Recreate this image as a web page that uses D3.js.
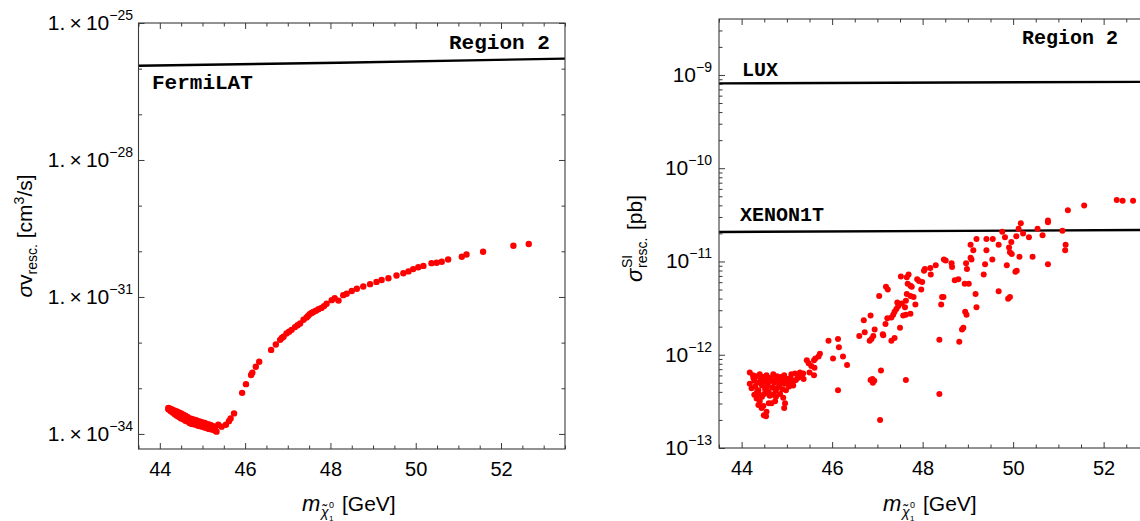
<!DOCTYPE html>
<html><head><meta charset="utf-8">
<script src="https://cdn.jsdelivr.net/npm/d3@7"></script>
<style>body{margin:0;background:#fff}</style>
</head><body>
<svg id="c" width="1140" height="521" xmlns="http://www.w3.org/2000/svg"></svg>
<script>
// ---------------- DATA ----------------
// Left panel: neutralino mass [GeV] and log10 of rescaled sigma v [cm^3/s]
const leftMass = [
 44.20,44.20,44.22,44.25,44.25,44.30,44.30,44.32,44.35,44.35,44.40,44.40,44.42,44.45,44.45,44.50,44.50,44.52,
 44.55,44.55,44.60,44.60,44.62,44.65,44.65,44.70,44.70,44.72,44.75,44.75,44.80,44.80,44.82,44.85,44.85,44.90,
 44.90,44.92,44.95,44.95,45.00,45.00,45.02,45.05,45.05,45.10,45.10,45.12,45.15,45.15,45.20,45.20,45.22,45.25,
 45.25,45.30,45.30,45.33,45.37,
 45.45,45.55,45.62,45.66,45.74,
 45.93,46.02,46.14,46.17,46.25,46.33,46.61,46.72,
 46.82,46.86,46.90,46.97,47.03,47.09,47.17,47.23,47.29,47.37,47.44,47.48,47.52,47.56,47.60,47.66,47.72,47.79,
 47.85,47.91,48.03,48.10,48.19,48.30,48.38,48.50,48.62,48.77,48.93,49.08,49.20,49.36,49.55,49.71,49.83,49.94,
 50.06,50.18,50.37,50.49,50.61,50.76,51.08,51.19,51.58,52.29,52.65
];
const leftLogSigmaV = [
 -33.43,-33.46,-33.46,-33.45,-33.50,-33.47,-33.53,-33.51,-33.49,-33.57,-33.51,-33.60,-33.56,-33.53,-33.63,-33.55,-33.66,-33.61,
 -33.58,-33.68,-33.60,-33.71,-33.66,-33.63,-33.73,-33.66,-33.76,-33.72,-33.67,-33.78,-33.69,-33.79,-33.74,-33.70,-33.80,-33.72,
 -33.82,-33.77,-33.73,-33.83,-33.75,-33.84,-33.80,-33.76,-33.86,-33.78,-33.87,-33.83,-33.79,-33.89,-33.81,-33.90,-33.86,-33.83,
 -33.91,-33.85,-33.93,-33.95,-33.80,
 -33.84,-33.80,-33.72,-33.66,-33.55,
 -33.10,-32.91,-32.71,-32.66,-32.53,-32.42,-32.16,-32.04,
 -31.94,-31.90,-31.87,-31.80,-31.76,-31.72,-31.66,-31.62,-31.58,-31.50,-31.45,-31.41,-31.37,-31.35,-31.33,-31.30,-31.27,-31.24,
 -31.20,-31.15,-31.07,-31.03,-31.08,-30.96,-30.93,-30.87,-30.82,-30.77,-30.72,-30.67,-30.63,-30.59,-30.53,-30.48,-30.44,-30.39,
 -30.35,-30.32,-30.26,-30.25,-30.23,-30.18,-30.12,-30.07,-30.01,-29.88,-29.84
];
// FermiLAT limit
const fermiMass = [43.5, 48.2, 53.5];
const fermiSigmaV = [1.16e-26, 1.35e-26, 1.66e-26];

// Right panel: neutralino mass [GeV] and log10 of rescaled sigma_SI [pb]
const rightMass = [
 52.29,52.42,52.65,51.57,51.21,50.77,50.77,50.17,50.12,50.54,51.09,49.76,49.82,49.55,49.41,49.19,49.06,49.68,50.07,50.22,50.35,50.65,49.96,49.91,51.16,
 45.44,45.48,45.54,45.60,45.63,45.70,45.73,45.61,45.50,45.60,46.02,45.92,46.13,46.15,46.24,46.33,46.13,46.60,46.70,46.72,46.83,46.87,46.91,46.94,
 47.04,46.85,46.85,46.90,46.89,46.93,47.08,47.06,47.12,47.13,47.18,47.19,47.23,47.22,47.31,47.35,47.38,47.42,47.46,47.44,47.31,47.38,47.50,47.54,
 47.52,47.61,47.63,47.63,47.57,47.63,47.65,47.69,47.65,47.67,47.73,47.76,47.73,47.80,47.73,47.84,47.88,47.92,47.99,47.97,48.03,48.05,48.17,48.18,
 48.29,48.37,48.37,48.41,48.43,48.46,48.47,48.51,48.64,48.65,48.71,48.79,48.81,48.87,48.90,48.93,48.96,48.98,48.94,48.97,49.02,49.06,49.08,49.17,
 49.19,49.12,49.35,49.38,49.41,49.54,49.68,49.86,49.89,49.93,49.97,49.93,50.05,50.08,50.14,50.43,50.77,51.15,
 44.18,44.25,44.32,44.40,44.48,44.55,44.62,44.70,44.78,44.86,44.94,45.02,45.10,45.18,45.26,45.32,45.36,45.29,45.37,45.06,45.14,
 44.18,44.22,44.28,44.30,44.35,44.37,44.42,44.45,44.50,44.52,44.58,44.60,44.65,44.68,44.72,44.75,44.80,44.83,44.88,44.90,44.95,45.00,45.05,45.12,45.20,
 44.26,44.44,44.58,44.74,44.90,45.08,45.24,44.34,44.56,44.78,44.98,45.16,
 44.28,44.33,44.38,44.40,44.45,44.48,44.50,44.37,44.44,44.49,44.54,44.55,44.60,44.62,44.66,44.70,44.74,44.76,44.85,44.94,44.96,44.92
];
const rightLogSigmaSI = [
 -10.34,-10.35,-10.35,-10.40,-10.45,-10.56,-10.58,-10.59,-10.65,-10.65,-10.67,-10.68,-10.74,-10.76,-10.76,-10.76,-10.82,-10.82,-10.73,-10.70,-10.74,-10.72,-10.79,-10.85,-10.82,
 -12.06,-12.09,-12.12,-12.06,-12.04,-12.02,-11.99,-12.14,-12.19,-12.22,-12.04,-11.85,-11.83,-11.92,-12.02,-12.11,-12.38,-11.80,-11.63,-11.76,-11.85,-11.83,-11.80,-11.73,
 -11.37,-11.58,-12.27,-12.30,-12.26,-12.28,-12.17,-12.70,-11.78,-11.79,-11.67,-11.27,-11.30,-11.61,-11.60,-11.57,-11.54,-11.51,-11.48,-11.44,-11.85,-11.82,-11.71,-11.45,
 -11.16,-11.49,-11.42,-12.27,-11.58,-11.57,-11.35,-11.14,-11.17,-11.24,-11.26,-11.27,-11.37,-11.38,-11.56,-11.46,-11.19,-11.21,-11.22,-11.30,-11.10,-11.08,-11.07,-11.14,
 -11.04,-11.84,-12.42,-11.46,-11.38,-11.38,-10.98,-10.99,-11.02,-11.06,-11.20,-11.19,-11.86,-11.73,-11.71,-11.24,-11.02,-11.08,-11.54,-11.57,-11.24,-10.96,-10.98,-11.35,
 -11.49,-10.88,-11.14,-11.03,-10.88,-10.98,-11.32,-11.04,-11.40,-11.38,-10.92,-10.90,-11.11,-11.10,-10.95,-10.95,-11.03,-10.88,
 -12.19,-12.22,-12.23,-12.21,-12.24,-12.22,-12.25,-12.21,-12.23,-12.24,-12.22,-12.26,-12.21,-12.20,-12.22,-12.24,-12.20,-12.19,-12.26,-12.29,-12.33,
 -12.31,-12.36,-12.28,-12.34,-12.30,-12.38,-12.27,-12.33,-12.29,-12.37,-12.31,-12.40,-12.28,-12.35,-12.30,-12.39,-12.27,-12.33,-12.29,-12.37,-12.31,-12.28,-12.34,-12.30,-12.27,
 -12.25,-12.24,-12.26,-12.25,-12.26,-12.25,-12.25,-12.40,-12.35,-12.36,-12.38,-12.28,
 -12.43,-12.47,-12.42,-12.50,-12.45,-12.55,-12.42,-12.54,-12.57,-12.65,-12.66,-12.61,-12.52,-12.44,-12.52,-12.43,-12.50,-12.45,-12.42,-12.57,-12.52,-12.46
];
// LUX and XENON1T limits
const luxMass = [43.5, 53.5];
const luxSigma = [8.13e-10, 8.45e-10];
const xenonMass = [43.5, 53.5];
const xenonSigma = [2.07e-11, 2.18e-11];

// Tick values / labels
const xTicks = [44, 46, 48, 50, 52];
const xTickLabels = ["44", "46", "48", "50", "52"];
const xMinorTicks = [43.5,44.5,45,45.5,46.5,47,47.5,48.5,49,49.5,50.5,51,51.5,52.5,53,53.5];
const leftYExp = [-25, -28, -31, -34];
const leftYMinorExp = [-26, -27, -29, -30, -32, -33];
const rightYExp = [-9, -10, -11, -12, -13];

// ---------------- DRAWING ----------------
const svg = d3.select("#c");
const SANS = "'Liberation Sans', Arimo, Helvetica, Arial, sans-serif";
const MONO = "'Courier New', 'Nimbus Mono PS', FreeMono, 'Liberation Mono', monospace";
const FRAME = "#3a3a3a";

function panel(cfg) {
  const x = d3.scaleLinear().domain([43.5, 53.5]).range([cfg.x0, cfg.x1]);
  const y = d3.scaleLog().domain(cfg.yDomain).range([cfg.y1, cfg.y0]);
  const g = svg.append("g");
  const cid = cfg.id + "-clip";
  svg.append("clipPath").attr("id", cid).append("rect")
    .attr("x", cfg.x0).attr("y", cfg.y0).attr("width", cfg.x1 - cfg.x0).attr("height", cfg.y1 - cfg.y0);
  const plot = g.append("g").attr("clip-path", `url(#${cid})`);

  // limit lines
  const line = d3.line().x(d => x(d[0])).y(d => y(d[1]));
  cfg.lines.forEach(L => {
    plot.append("path").datum(d3.zip(L.m, L.v)).attr("d", line)
      .attr("fill", "none").attr("stroke", "#000").attr("stroke-width", 2.4);
  });

  // points
  plot.selectAll("circle").data(d3.zip(cfg.mass, cfg.logv)).join("circle")
    .attr("cx", d => x(d[0])).attr("cy", d => y(Math.pow(10, d[1])))
    .attr("r", cfg.r).attr("fill", "#ff0000");

  // frame
  g.append("rect").attr("x", cfg.x0).attr("y", cfg.y0)
    .attr("width", cfg.x1 - cfg.x0).attr("height", cfg.y1 - cfg.y0)
    .attr("fill", "none").attr("stroke", FRAME).attr("stroke-width", 1.1);

  const style = sel => { sel.select(".domain").remove(); sel.selectAll("line").attr("stroke", FRAME).attr("stroke-width", 1); };
  // x axes (bottom labelled, top mirrored)
  const xb = g.append("g").attr("transform", `translate(0,${cfg.y1})`)
    .call(d3.axisBottom(x).tickValues(xTicks).tickSize(-6).tickPadding(12.5).tickFormat((d, i) => xTickLabels[i]));
  style(xb);
  xb.selectAll("text").attr("font-family", SANS).attr("font-size", 20).attr("fill", "#000");
  style(g.append("g").attr("transform", `translate(0,${cfg.y1})`).call(d3.axisBottom(x).tickValues(xMinorTicks).tickSize(-3.5).tickFormat("")));
  style(g.append("g").attr("transform", `translate(0,${cfg.y0})`).call(d3.axisTop(x).tickValues(xTicks).tickSize(-6).tickFormat("")));
  style(g.append("g").attr("transform", `translate(0,${cfg.y0})`).call(d3.axisTop(x).tickValues(xMinorTicks).tickSize(-3.5).tickFormat("")));
  // y axes
  const yMaj = cfg.yMajor.map(e => Math.pow(10, e));
  style(g.append("g").attr("transform", `translate(${cfg.x0},0)`).call(d3.axisLeft(y).tickValues(yMaj).tickSize(-6).tickFormat("")));
  style(g.append("g").attr("transform", `translate(${cfg.x0},0)`).call(d3.axisLeft(y).tickValues(cfg.yMinor).tickSize(-3.5).tickFormat("")));
  style(g.append("g").attr("transform", `translate(${cfg.x1},0)`).call(d3.axisRight(y).tickValues(yMaj).tickSize(-6).tickFormat("")));
  style(g.append("g").attr("transform", `translate(${cfg.x1},0)`).call(d3.axisRight(y).tickValues(cfg.yMinor).tickSize(-3.5).tickFormat("")));

  // y tick labels with superscripts
  cfg.yMajor.forEach(e => {
    const t = g.append("text").attr("x", cfg.x0 - cfg.labelGap).attr("y", y(Math.pow(10, e)) + 7)
      .attr("text-anchor", "end").attr("font-family", SANS).attr("font-size", 21).attr("fill", "#000");
    t.append("tspan").text(cfg.mantissa);
    t.append("tspan").attr("font-size", 14).attr("dy", -10).text("\u2212" + Math.abs(e));
  });

  // x title  m_{chi~_1^0} [GeV]
  const xt = g.append("g").attr("transform", `translate(${cfg.xTitleX},511)`)
    .attr("font-family", SANS).attr("fill", "#000");
  xt.append("text").attr("x", -50).attr("font-size", 22).attr("font-style", "italic").text("m");
  xt.append("text").attr("x", -31).attr("y", 6).attr("font-size", 14).attr("font-style", "italic").text("\u03C7\u0303");
  xt.append("text").attr("x", -23).attr("y", -3).attr("font-size", 9).text("0");
  xt.append("text").attr("x", -23).attr("y", 9.5).attr("font-size", 8).text("1");
  xt.append("text").attr("x", -10).attr("font-size", 21).text("[GeV]");

  cfg.labels.forEach(l => {
    g.append("text").attr("x", l.x).attr("y", l.y).attr("font-family", MONO)
      .attr("font-weight", "bold").attr("font-size", l.size).attr("fill", "#000").text(l.text);
  });
  return {x, y, g};
}

const left = panel({
  id: "left", x0: 138.5, x1: 565, y0: 23, y1: 449,
  yDomain: [Math.pow(10, -34.33), 1e-25],
  yMajor: leftYExp, yMinor: leftYMinorExp.map(e => Math.pow(10, e)),
  mass: leftMass, logv: leftLogSigmaV, r: 3.2,
  lines: [{m: fermiMass, v: fermiSigmaV}],
  mantissa: "1.\u2009\u00D7\u200910", labelGap: 5.5, xTitleX: 352,
  labels: [
    {text: "FermiLAT", x: 152, y: 89, size: 21},
    {text: "Region 2", x: 449, y: 49, size: 21}
  ]
});

const rightMinor = [];
rightYExp.forEach(e => { for (let k = 2; k <= 9; k++) { const v = k * Math.pow(10, e); if (v < Math.pow(10, -8.4)) rightMinor.push(v); } });

const right = panel({
  id: "right", x0: 719, x1: 1171.5, y0: 19, y1: 448,
  yDomain: [1e-13, Math.pow(10, -8.4)],
  yMajor: rightYExp, yMinor: rightMinor,
  mass: rightMass, logv: rightLogSigmaSI, r: 3.0,
  lines: [{m: luxMass, v: luxSigma}, {m: xenonMass, v: xenonSigma}],
  mantissa: "10", labelGap: 7, xTitleX: 933,
  labels: [
    {text: "LUX", x: 742, y: 76, size: 20},
    {text: "XENON1T", x: 740, y: 221, size: 20},
    {text: "Region 2", x: 1022, y: 44, size: 20}
  ]
});

// y titles
const ylt = svg.append("text").attr("transform", "translate(32,236) rotate(-90)")
  .attr("text-anchor", "middle").attr("font-family", SANS).attr("font-size", 21).attr("fill", "#000");
ylt.append("tspan").attr("font-style", "italic").text("\u03C3");
ylt.append("tspan").text("v");
ylt.append("tspan").attr("font-size", 14).attr("dy", 5).text("resc.");
ylt.append("tspan").attr("dy", -5).text(" [cm");
ylt.append("tspan").attr("font-size", 14).attr("dy", -8).text("3");
ylt.append("tspan").attr("dy", 8).text("/s]");

const yrt = svg.append("g").attr("transform", "translate(642,234) rotate(-90)")
  .attr("font-family", SANS).attr("fill", "#000");
yrt.append("text").attr("x", -48).attr("font-size", 22).attr("font-style", "italic").text("\u03C3");
yrt.append("text").attr("x", -34).attr("y", -10).attr("font-size", 14).text("SI");
yrt.append("text").attr("x", -34).attr("y", 5).attr("font-size", 14).text("resc.");
yrt.append("text").attr("x", 4).attr("font-size", 21).text("[pb]");
</script>
</body></html>
